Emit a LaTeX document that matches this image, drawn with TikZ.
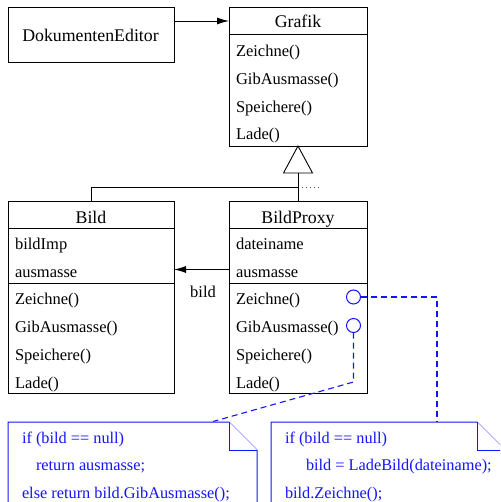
\documentclass[tikz,border=0pt]{standalone}
\usepackage{fontspec}
\setmainfont{Liberation Serif}
\usetikzlibrary{arrows.meta}
\definecolor{noteblue}{RGB}{20,20,255}
\begin{document}
\begin{tikzpicture}[x=1pt,y=-1pt,
  every node/.style={inner sep=0pt,outer sep=0pt},
  classbox/.style={draw=black,line width=0.9pt,rectangle},
  divider/.style={draw=black,line width=0.9pt},
  ctitle/.style={font=\fontsize{17.8}{20}\selectfont,anchor=base},
  member/.style={font=\fontsize{16.5}{19}\selectfont,anchor=base west},
  assoc/.style={draw=black,line width=0.9pt,-{Latex[length=12pt,width=7pt]}},
  inherit/.style={draw=black,line width=0.9pt},
  port/.style={circle,draw=noteblue,line width=1pt,minimum size=14pt},
  notelink/.style={draw=noteblue,line width=1.1pt,dash pattern=on 6pt off 4pt},
  notebox/.style={draw=noteblue,line width=1pt,fill=white},
  notetext/.style={font=\fontsize{16.3}{19}\selectfont,text=noteblue,anchor=base west}
]
\clip (0,0) rectangle (500,502);

% client
\node[classbox,minimum width=166,minimum height=55] (de) at (91,34.5) {};
\node[ctitle] (de-t) at (90.5,42) {DokumentenEditor};

% abstract class Grafik
\node[classbox,minimum width=138,minimum height=139] (grafik) at (298,76.5) {};
\draw[divider] (grafik.west |- 0,34) -- (grafik.east |- 0,34);
\node[ctitle] (grafik-t) at (298,27.5) {Grafik};
\foreach \txt [count=\i] in {Zeichne(),GibAusmasse(),Speichere(),Lade()}
  \node[member] (grafik-m\i) at (236,{56.5+27.8*(\i-1)}) {\txt};

% class Bild
\node[classbox,minimum width=166,minimum height=192] (bild) at (91,297) {};
\draw[divider] (bild.west |- 0,228) -- (bild.east |- 0,228);
\draw[divider] (bild.west |- 0,283) -- (bild.east |- 0,283);
\node[ctitle] (bild-t) at (91,223) {Bild};
\foreach \txt [count=\i] in {bildImp,ausmasse,Zeichne(),GibAusmasse(),Speichere(),Lade()}
  \node[member] (bild-m\i) at (15,{249.2+27.8*(\i-1)}) {\txt};

% class BildProxy
\node[classbox,minimum width=138,minimum height=192] (proxy) at (298,297) {};
\draw[divider] (proxy.west |- 0,228) -- (proxy.east |- 0,228);
\draw[divider] (proxy.west |- 0,283) -- (proxy.east |- 0,283);
\node[ctitle] (proxy-t) at (298,223) {BildProxy};
\foreach \txt [count=\i] in {dateiname,ausmasse,Zeichne(),GibAusmasse(),Speichere(),Lade()}
  \node[member] (proxy-m\i) at (236,{249.2+27.8*(\i-1)}) {\txt};

% association DokumentenEditor -> Grafik
\draw[assoc] ([yshift=13.5pt]de.east) -- ([yshift=13.5pt]de.east -| grafik.west);

% generalization
\coordinate (tri) at (298,173);
\coordinate (joint) at (298,187.5);
\draw[inherit] (grafik.south) -- ([xshift=-14.5pt]tri) -- ([xshift=14.5pt]tri) -- cycle;
\draw[inherit] (tri) -- (proxy.north);
\draw[inherit] (bild.north) |- (joint);
\draw[black!70,line width=0.9pt,dash pattern=on 1pt off 3pt] ([xshift=4pt]joint) -- ++(17,0);

% association BildProxy -> Bild
\draw[assoc] ([yshift=27.5pt]proxy.west) -- ([yshift=27.5pt]bild.east);
\node[ctitle,font=\fontsize{16.5}{19}\selectfont] (bild-lbl) at (203,297.5) {bild};

% implementation notes
\node[port] (zc) at (353.5,297) {};
\node[port] (gc) at (353.5,325.5) {};
\coordinate (corner) at (437,297);
\coordinate (noteR) at (437,422);
\coordinate (noteL) at (213,421.5);
\coordinate (bend) at (353.5,382);
\draw[notelink] (zc.east) -- (corner) -- (noteR);
\draw[notelink] (gc.south) -- (bend) -- (noteL);

\draw[notebox] (8,510) -- (8,422) -- (229,422) -- (257,450) -- (257,510);
\draw[notebox] (229,422) |- (257,450);
\node[notetext] (nl1) at (22,443) {if (bild == null)};
\node[notetext] (nl2) at (36,470.5) {return ausmasse;};
\node[notetext] (nl3) at (22,498) {else return bild.GibAusmasse();};

\draw[notebox] (271,510) -- (271,422) -- (477,422) -- (505,450) -- (505,510);
\draw[notebox] (477,422) |- (505,450);
\node[notetext] (nr1) at (285,443) {if (bild == null)};
\node[notetext] (nr2) at (306,470.5) {bild = LadeBild(dateiname);};
\node[notetext] (nr3) at (285,498) {bild.Zeichne();};
\end{tikzpicture}
\end{document}
